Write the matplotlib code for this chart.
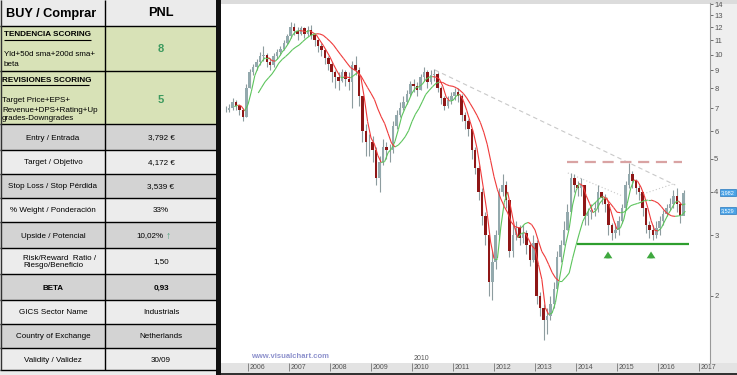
import numpy as np
import pandas as pd
import matplotlib.pyplot as plt
import matplotlib.transforms as mtransforms
from matplotlib.collections import LineCollection
from matplotlib.patches import Rectangle

plt.rcParams['font.family'] = ['Liberation Sans', 'DejaVu Sans']

# --- tabla de la ficha ---
header = ['BUY / Comprar', 'PNL']
score_titles = ['TENDENCIA SCORING', 'REVISIONES SCORING']
score_notes = [['Yld+50d sma+200d sma+', 'beta'],
               ['Target Price+EPS+', 'Revenue+DPS+Rating+Up', 'grades-Downgrades']]
score_values = ['8', '5']
row_labels = ['Entry / Entrada', 'Target / Objetivo', 'Stop Loss / Stop Pérdida',
              '% Weight / Ponderación', 'Upside / Potencial',
              'Risk/Reward  Ratio /\nRiesgo/Beneficio', 'BETA', 'GICS Sector Name',
              'Country of Exchange', 'Validity / Validez']
row_values = ['3,792 €', '4,172 €', '3,539 €', '33%', '10,02%', '1,50', '0,93',
              'Industrials', 'Netherlands', '30/09']

# --- cotizacion mensual, jun 2005 - ago 2016 ---
first_month = '2005-06'
close = [6.9, 7.0, 7.3, 7.1, 6.9, 6.6, 8.0,
         8.9, 9.2, 9.5, 9.9, 10.0, 9.5, 9.3, 9.9, 10.2, 10.4, 10.8, 11.3,
         12.0, 11.7, 11.5, 11.9, 11.5, 11.8, 11.4, 11.0, 10.6, 10.3, 9.8, 9.4,
         8.9, 8.6, 8.4, 8.9, 8.5, 8.3, 9.3, 9.0, 7.6, 6.0, 5.6, 5.6,
         5.3, 4.4, 4.9, 5.4, 5.3, 5.3, 6.2, 6.7, 7.0, 7.3, 7.7, 8.2,
         8.1, 7.9, 8.6, 8.9, 8.3, 8.7, 8.8, 8.0, 7.5, 7.1, 7.4, 7.6,
         7.8, 7.6, 6.7, 6.4, 6.1, 5.3, 4.7, 4.0, 3.4, 3.0, 2.2, 2.5,
         3.0, 4.0, 4.2, 3.8, 2.7, 3.0, 3.15, 2.95, 3.05, 2.8, 2.55, 2.85,
         2.0, 1.85, 1.7, 1.75, 1.9, 2.1, 2.6, 2.8, 3.1, 3.5, 4.4, 4.2,
         4.1, 4.2, 3.4, 3.5, 3.55, 3.6, 4.0, 3.85, 3.7, 3.2, 3.05, 3.1,
         3.3, 3.6, 4.2, 4.5, 4.3, 4.1, 4.0, 3.6, 3.2, 3.1, 3.0, 3.15,
         3.3, 3.45, 3.6, 3.7, 3.9, 3.7, 3.4, 3.98]
high = [7.1, 7.2, 7.5, 7.4, 7.2, 7.0, 8.2,
        9.1, 9.4, 9.7, 10.2, 10.6, 10.1, 9.8, 10.1, 10.4, 10.6, 11.0, 11.5,
        12.4, 12.3, 12.0, 12.1, 12.0, 12.1, 12.2, 11.5, 11.1, 10.8, 10.4, 9.9,
        9.5, 9.0, 8.9, 9.1, 9.0, 8.9, 9.6, 9.9, 9.2, 7.6, 6.3, 5.9,
        5.8, 5.4, 5.1, 5.7, 5.6, 5.5, 6.4, 6.9, 7.3, 7.6, 7.9, 8.4,
        8.5, 8.3, 8.8, 9.2, 9.0, 9.0, 9.1, 8.9, 8.1, 7.6, 7.6, 7.8,
        8.0, 8.0, 7.7, 6.8, 6.5, 6.1, 5.4, 4.8, 4.1, 3.5, 3.0, 2.7,
        3.1, 4.1, 4.5, 4.3, 3.8, 3.2, 3.3, 3.2, 3.2, 3.1, 2.85, 3.0,
        2.9, 2.05, 1.9, 1.85, 2.0, 2.2, 2.7, 2.9, 3.3, 3.7, 4.55, 4.5,
        4.3, 4.4, 4.2, 3.6, 3.7, 3.75, 4.2, 4.0, 3.95, 3.7, 3.25, 3.25,
        3.4, 3.7, 4.3, 4.85, 4.6, 4.35, 4.2, 4.0, 3.6, 3.3, 3.2, 3.3,
        3.4, 3.55, 3.7, 3.85, 4.05, 4.1, 3.75, 4.05]
low = [6.8, 6.8, 6.9, 6.9, 6.7, 6.4, 6.6,
       8.0, 8.7, 9.0, 9.3, 9.6, 9.2, 9.0, 9.2, 9.7, 10.0, 10.3, 10.7,
       11.2, 11.4, 11.0, 11.4, 11.2, 11.3, 11.1, 10.6, 10.2, 9.9, 9.4, 9.0,
       8.3, 8.0, 7.9, 8.3, 8.1, 7.9, 7.0, 8.7, 7.1, 5.6, 5.1, 5.1,
       4.9, 4.2, 4.0, 4.8, 5.0, 4.9, 5.2, 6.1, 6.6, 6.9, 7.2, 7.6,
       7.8, 7.6, 7.9, 8.4, 8.0, 8.2, 8.4, 7.8, 7.2, 6.9, 7.0, 7.2,
       7.4, 7.3, 6.4, 6.1, 5.8, 5.0, 4.5, 3.8, 3.2, 2.8, 2.0, 1.95,
       2.4, 2.9, 3.9, 3.6, 2.6, 2.6, 2.9, 2.8, 2.85, 2.65, 2.45, 2.5,
       1.9, 1.75, 1.49, 1.55, 1.7, 1.85, 2.1, 2.5, 2.8, 3.1, 3.5, 4.0,
       3.9, 3.9, 3.2, 3.2, 3.35, 3.4, 3.5, 3.7, 3.5, 3.0, 2.9, 2.95,
       3.0, 3.25, 3.55, 4.1, 4.1, 3.95, 3.8, 3.4, 3.05, 2.95, 2.9, 2.95,
       3.0, 3.2, 3.4, 3.55, 3.6, 3.5, 3.25, 3.6]

# lineas de analisis (fecha decimal, precio)
trend_line = ([2010.56, 2016.42], [9.02, 4.19])
dotted_lines = [([2013.80, 2015.12], [4.54, 3.90]), ([2015.56, 2016.37], [3.92, 4.22])]
resistance = (4.89, 2013.78, 2016.59)
support = (2.83, 2014.02, 2016.76)
arrow_years = [2014.78, 2015.83]
price_tags = [3.982, 3.529]
years = list(range(2006, 2018))
y_ticks = list(range(2, 15))

W, H = 737, 375
fig = plt.figure(figsize=(W / 100, H / 100), dpi=100)
bg = fig.add_axes([0, 0, 1, 1])
bg.set_xlim(0, W)
bg.set_ylim(H, 0)
bg.axis('off')


def box(x0, y0, x1, y1, fc):
    bg.add_patch(Rectangle((x0, y0), x1 - x0, y1 - y0, facecolor=fc, edgecolor='none'))


# ---- tabla ----
box(0, 0, 216, 26, '#ebebeb')
box(0, 26, 216, 124, '#d8e2b7')
bounds = [124, 150, 174, 198, 222, 248, 274, 300, 324, 348, 370]
for i in range(len(row_labels)):
    box(0, bounds[i], 216, bounds[i + 1], '#d3d3d3' if i % 2 == 0 else '#ececec')
box(0, 370, 216, 375, '#ececec')
bg.hlines([26, 71] + bounds, 0, 216, color='black', lw=1)
bg.vlines(105, 0, 370, color='black', lw=1)
bg.vlines(0.5, 0, 370, color='#333333', lw=1)
box(216, 0, 221, 375, '#111111')

bg.text(51, 13.5, header[0], ha='center', va='center', fontsize=9.2, fontweight='bold')
bg.text(161, 13.5, header[1], ha='center', va='center', fontsize=9.2, fontweight='bold')

title_y = [35, 80]
title_x = [4, 2]
note_y = [[54, 64], [100, 110, 119]]
value_y = [49, 100]
for k in range(2):
    bg.text(title_x[k], title_y[k], score_titles[k], ha='left', va='center',
            fontsize=5.9, fontweight='bold')
    bg.hlines(title_y[k] + 4.5, title_x[k], title_x[k] + 87, color='black', lw=0.8)
    for line, yy in zip(score_notes[k], note_y[k]):
        bg.text(title_x[k], yy, line, ha='left', va='center', fontsize=5.8)
    bg.text(161, value_y[k], score_values[k], ha='center', va='center',
            fontsize=8, fontweight='bold', color='#3c9a5e')

for i, (lab, val) in enumerate(zip(row_labels, row_values)):
    yc = (bounds[i] + bounds[i + 1]) / 2 + 1
    bold = 'bold' if lab == 'BETA' else 'normal'
    if '\n' in lab:
        bg.text(23, yc, lab, ha='left', va='center', fontsize=5.8, linespacing=1.15)
    else:
        bg.text(53, yc, lab, ha='center', va='center', fontsize=5.8, fontweight=bold)
    if lab.startswith('Upside'):
        bg.text(150, yc, val, ha='center', va='center', fontsize=5.8)
        bg.text(168, yc, '↑', ha='center', va='center', fontsize=7.5, color='#4aa07c')
    else:
        bg.text(161, yc, val, ha='center', va='center', fontsize=5.8, fontweight=bold)

# ---- grafico ----
box(221, 0, 737, 375, 'white')
box(710, 3, 737, 363, '#efefef')
box(221, 0, 737, 4, '#dcdcdc')
box(221, 363, 737, 373, '#e3e3e3')
box(221, 373, 737, 375, '#333333')
bg.text(251, 356, 'www.visualchart.com', ha='left', va='center', fontsize=5.5,
        fontweight='bold', color='#8c90cc')

ax = fig.add_axes([221 / W, 1 - 363 / H, (710 - 221) / W, (363 - 3) / H])
ax.patch.set_alpha(0)
ax.set_yscale('log')
ax.set_xlim(2005.341, 2017.268)
ax.set_ylim(1.279, 14.1)

months = pd.period_range(first_month, periods=len(close), freq='M')
t_mid = months.year + (months.month - 0.5) / 12
t_end = months.year + months.month / 12
c = np.array(close)
o = np.r_[c[0], c[:-1]]
up = c >= o
ax.vlines(t_mid, low, high, color='#8d9c9f', lw=0.8, zorder=2)
body_lo = np.minimum(o, c)
body_h = np.abs(c - o)
ax.bar(t_mid[up], body_h[up], bottom=body_lo[up], width=0.06,
       color='#93a9ad', zorder=3)
ax.bar(t_mid[~up], body_h[~up], bottom=body_lo[~up], width=0.06,
       color='#8e1616', zorder=3)

# medias moviles coloreadas por pendiente
s = pd.Series(close)
for win in (3, 10):
    ma = s.rolling(win).mean().values
    segs, cols = [], []
    for i in range(1, len(ma)):
        if np.isnan(ma[i - 1]):
            continue
        segs.append([(t_end[i - 1], ma[i - 1]), (t_end[i], ma[i])])
        cols.append('#5cc45c' if ma[i] >= ma[i - 1] else '#ef3a3a')
    ax.add_collection(LineCollection(segs, colors=cols, linewidths=0.8, zorder=4))

ax.plot(*trend_line, color='#c9c9c9', lw=0.8, ls=(0, (4, 3)), zorder=1)
for xs, ys in dotted_lines:
    ax.plot(xs, ys, color='#c9c9c9', lw=0.8, ls=(0, (1, 2)), zorder=1)
ax.hlines(resistance[0], resistance[1], resistance[2], color='#d9a3a3', lw=1.6,
          ls=(0, (5, 3)), zorder=1)
ax.hlines(support[0], support[1], support[2], color='#2e9e2e', lw=1.6, zorder=5)
for yr in arrow_years:
    ax.annotate('', xy=(yr, 2.74), xytext=(yr, 2.52),
                arrowprops=dict(arrowstyle='simple,head_width=0.9,head_length=0.7,tail_width=0.35',
                                fc='#3fa83f', ec='none', mutation_scale=7))

# ejes
ax.yaxis.tick_right()
ax.set_yticks(y_ticks)
ax.set_yticklabels([str(v) for v in y_ticks])
ax.minorticks_off()
ax.tick_params(axis='y', length=2, width=0.6, pad=1, labelsize=5.5, colors='#555555')
ax.set_xticks(years)
ax.tick_params(axis='x', direction='out', length=6, width=0.6, labelbottom=False,
               colors='#777777')
blend = mtransforms.blended_transform_factory(ax.transData, ax.transAxes)
for yr in years:
    ax.text(yr + 0.04, -0.004, str(yr), transform=blend, ha='left', va='top',
            fontsize=5, color='#555555', clip_on=False)
ax.text(2010.04, 0.004, '2010', transform=blend, ha='left', va='bottom',
        fontsize=5, color='#555555')
for sp in ('left', 'top', 'bottom'):
    ax.spines[sp].set_visible(False)
ax.spines['right'].set_color('#999999')
ax.spines['right'].set_linewidth(0.8)

tagb = mtransforms.blended_transform_factory(ax.transAxes, ax.transData)
for p in price_tags:
    ax.text(1.050, p, f'{p:.3f}'.replace('.', ','), transform=tagb, ha='right',
            va='center', fontsize=4.0, color='white', clip_on=False, zorder=6,
            bbox=dict(boxstyle='square,pad=0.2', fc='#4ba3e6', ec='#2a78bd', lw=0.5))

fig.savefig('out.png', dpi=100)
